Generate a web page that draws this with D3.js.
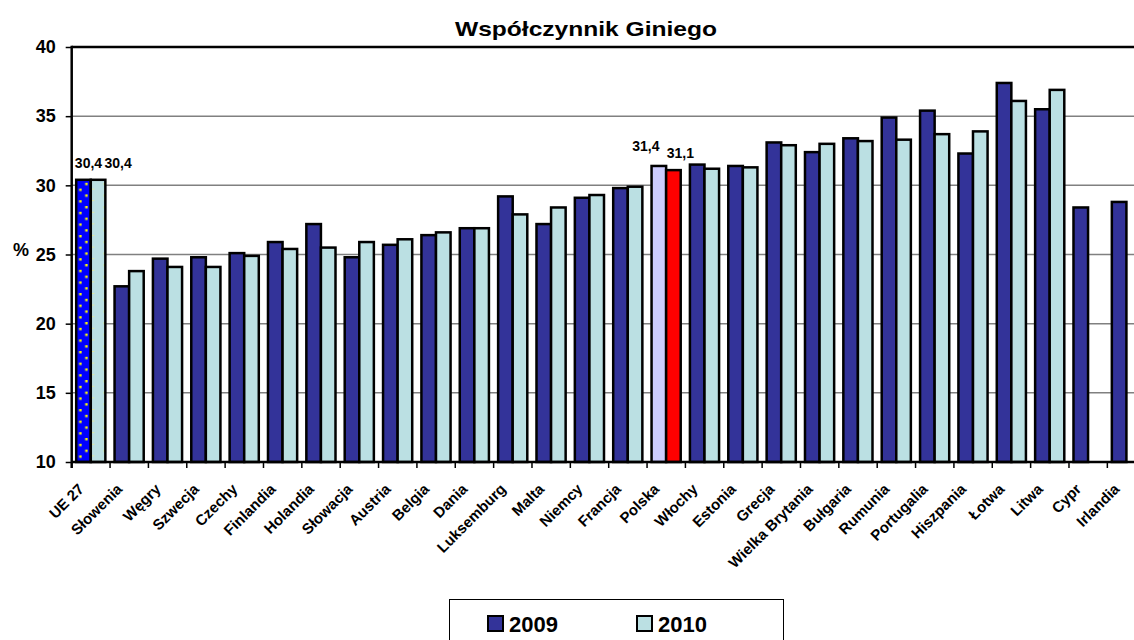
<!DOCTYPE html>
<html>
<head>
<meta charset="utf-8">
<title>Współczynnik Giniego</title>
<script src="https://d3js.org/d3.v7.min.js"></script>
<style>
  body { margin: 0; background: #fff; }
  text { font-family: Arial, "Liberation Sans", sans-serif; font-weight: bold; }
</style>
</head>
<body>
<div id="my_dataviz"></div>
<script>
// data
const countries = ["UE 27", "Słowenia", "Węgry", "Szwecja", "Czechy", "Finlandia", "Holandia",
  "Słowacja", "Austria", "Belgia", "Dania", "Luksemburg", "Malta", "Niemcy", "Francja", "Polska",
  "Włochy", "Estonia", "Grecja", "Wielka Brytania", "Bułgaria", "Rumunia", "Portugalia",
  "Hiszpania", "Łotwa", "Litwa", "Cypr", "Irlandia"];
const years = ["2009", "2010"];
const gini2009 = [30.4, 22.7, 24.7, 24.8, 25.1, 25.9, 27.2, 24.8, 25.7, 26.4, 26.9, 29.2, 27.2, 29.1,
  29.8, 31.4, 31.5, 31.4, 33.1, 32.4, 33.4, 34.9, 35.4, 32.3, 37.4, 35.5, 28.4, 28.8];
const gini2010 = [30.4, 23.8, 24.1, 24.1, 24.9, 25.4, 25.5, 25.9, 26.1, 26.6, 26.9, 27.9, 28.4, 29.3,
  29.9, 31.1, 31.2, 31.3, 32.9, 33.0, 33.2, 33.3, 33.7, 33.9, 36.1, 36.9, null, null];
const yTicks = [10, 15, 20, 25, 30, 35, 40];
const labelled = ["UE 27", "Polska"];

const W = 1134, H = 640;
const plotLeft = 71.7, plotRight = 1145.7, plotTop = 47, plotBottom = 462;

const svg = d3.select("#my_dataviz").append("svg")
  .attr("width", W).attr("height", H);

// fill patterns for UE 27
const defs = svg.append("defs");
const p1 = defs.append("pattern").attr("id", "dotsBlue")
  .attr("patternUnits", "userSpaceOnUse").attr("width", 12).attr("height", 11.6)
  .attr("x", 0).attr("y", 3);
p1.append("rect").attr("width", 12).attr("height", 11.6).attr("fill", "#0000ff");
p1.append("rect").attr("x", 7.5).attr("y", 0).attr("width", 2.4).attr("height", 2.4).attr("fill", "#ffff00");
p1.append("rect").attr("x", 1.5).attr("y", 5.8).attr("width", 2.4).attr("height", 2.4).attr("fill", "#ffff00");
const p2 = defs.append("pattern").attr("id", "dotsCyan")
  .attr("patternUnits", "userSpaceOnUse").attr("width", 24).attr("height", 11.6)
  .attr("x", 0).attr("y", 3);
p2.append("rect").attr("width", 24).attr("height", 11.6).attr("fill", "#bbe0e3");
p2.append("rect").attr("x", 8.5).attr("y", 5.8).attr("width", 2.4).attr("height", 2.4).attr("fill", "#ffff00");
p2.append("rect").attr("x", 8.5).attr("y", 0).attr("width", 14).attr("height", 0.8).attr("fill", "#f2f08a");

const x = d3.scaleBand().domain(countries).range([plotLeft, plotRight]).padding(0);
const xs = d3.scaleBand().domain(years).range([4.5, x.bandwidth() - 4.7]).padding(0);
const y = d3.scaleLinear().domain([10, 40]).range([plotBottom, plotTop]);

// title
svg.append("text").attr("x", 586).attr("y", 36)
  .attr("text-anchor", "middle").style("font-size", "21px")
  .attr("textLength", 262).attr("lengthAdjust", "spacingAndGlyphs")
  .text("Współczynnik Giniego");

// gridlines
svg.append("g").selectAll("line")
  .data(yTicks.slice(1, -1))
  .join("line")
    .attr("x1", plotLeft).attr("x2", W)
    .attr("y1", d => y(d)).attr("y2", d => y(d))
    .attr("stroke", "#808080").attr("stroke-width", 1.5);
svg.append("line").attr("x1", plotLeft).attr("x2", W)
  .attr("y1", y(40)).attr("y2", y(40))
  .attr("stroke", "#000").attr("stroke-width", 2.5);

// y axis
const yAxis = svg.append("g")
  .attr("transform", `translate(${plotLeft},0)`)
  .call(d3.axisLeft(y).tickValues(yTicks).tickSize(6).tickPadding(10));
yAxis.select(".domain").remove();
yAxis.selectAll("line").attr("stroke", "#000").attr("stroke-width", 1.5);
yAxis.selectAll("text").style("font-size", "18px").attr("fill", "#000")
  .style("font-family", "Arial, 'Liberation Sans', sans-serif");

svg.append("text").attr("x", 21).attr("y", 256)
  .attr("text-anchor", "middle").style("font-size", "18px").text("%");

// bars
const rows = countries.map((c, i) => ({ c: c, v: [gini2009[i], gini2010[i]] }));
function barFill(c, k) {
  if (c === "UE 27") return k === 0 ? "url(#dotsBlue)" : "url(#dotsCyan)";
  if (c === "Polska") return k === 0 ? "#ccccff" : "#ff0000";
  return k === 0 ? "#333399" : "#bbe0e3";
}
const groups = svg.append("g").selectAll("g")
  .data(rows)
  .join("g")
    .attr("transform", d => `translate(${x(d.c)},0)`);
groups.selectAll("rect")
  .data(d => d.v.map((v, k) => ({ c: d.c, k: k, v: v })).filter(e => e.v != null))
  .join("rect")
    .attr("x", e => xs(years[e.k]))
    .attr("width", xs.bandwidth())
    .attr("y", e => y(e.v))
    .attr("height", e => y(10) - y(e.v))
    .attr("fill", e => barFill(e.c, e.k))
    .attr("stroke", "#000")
    .attr("stroke-width", 2.5);

// data labels (positions nudged as in the original)
const labelShift = {
  "UE 27": [[5, -12], [20, -12]],
  "Polska": [[-13, -15], [7, -12]]
};
groups.filter(d => labelled.includes(d.c)).selectAll("text")
  .data(d => d.v.map((v, k) => ({ c: d.c, k: k, v: v })))
  .join("text")
    .attr("x", e => xs(years[e.k]) + xs.bandwidth() / 2 + labelShift[e.c][e.k][0])
    .attr("y", e => y(e.v) + labelShift[e.c][e.k][1])
    .attr("text-anchor", "middle")
    .style("font-size", "14px")
    .text(e => d3.format(".1f")(e.v).replace(".", ","));

// x axis
svg.append("line").attr("x1", plotLeft).attr("x2", W)
  .attr("y1", plotBottom).attr("y2", plotBottom)
  .attr("stroke", "#000").attr("stroke-width", 2.5);
svg.append("line").attr("x1", plotLeft).attr("x2", plotLeft)
  .attr("y1", plotTop - 1.25).attr("y2", plotBottom + 6)
  .attr("stroke", "#000").attr("stroke-width", 2.5);
svg.append("g").selectAll("line")
  .data(countries.slice(1))
  .join("line")
    .attr("x1", d => x(d)).attr("x2", d => x(d))
    .attr("y1", plotBottom).attr("y2", plotBottom + 6)
    .attr("stroke", "#000").attr("stroke-width", 1.5);

svg.append("g").selectAll("text")
  .data(countries)
  .join("text")
    .attr("text-anchor", "end")
    .attr("transform", d => `translate(${x(d) + x.bandwidth() / 2 - 6},490) rotate(-45)`)
    .style("font-size", "15px")
    .text(d => d);

// legend
const lg = svg.append("g");
lg.append("rect").attr("x", 449.5).attr("y", 599.5).attr("width", 334).attr("height", 50)
  .attr("fill", "#fff").attr("stroke", "#000").attr("stroke-width", 1);
const legendX = d3.scalePoint().domain(years).range([488, 637]);
const item = lg.selectAll("g.item").data(years).join("g").attr("class", "item")
  .attr("transform", d => `translate(${legendX(d)},616)`);
item.append("rect").attr("width", 15).attr("height", 15)
  .attr("fill", (d, k) => k === 0 ? "#333399" : "#bbe0e3")
  .attr("stroke", "#000").attr("stroke-width", 2);
item.append("text").attr("x", 21).attr("y", 15.5)
  .style("font-size", "22px").text(d => d);
</script>
</body>
</html>
